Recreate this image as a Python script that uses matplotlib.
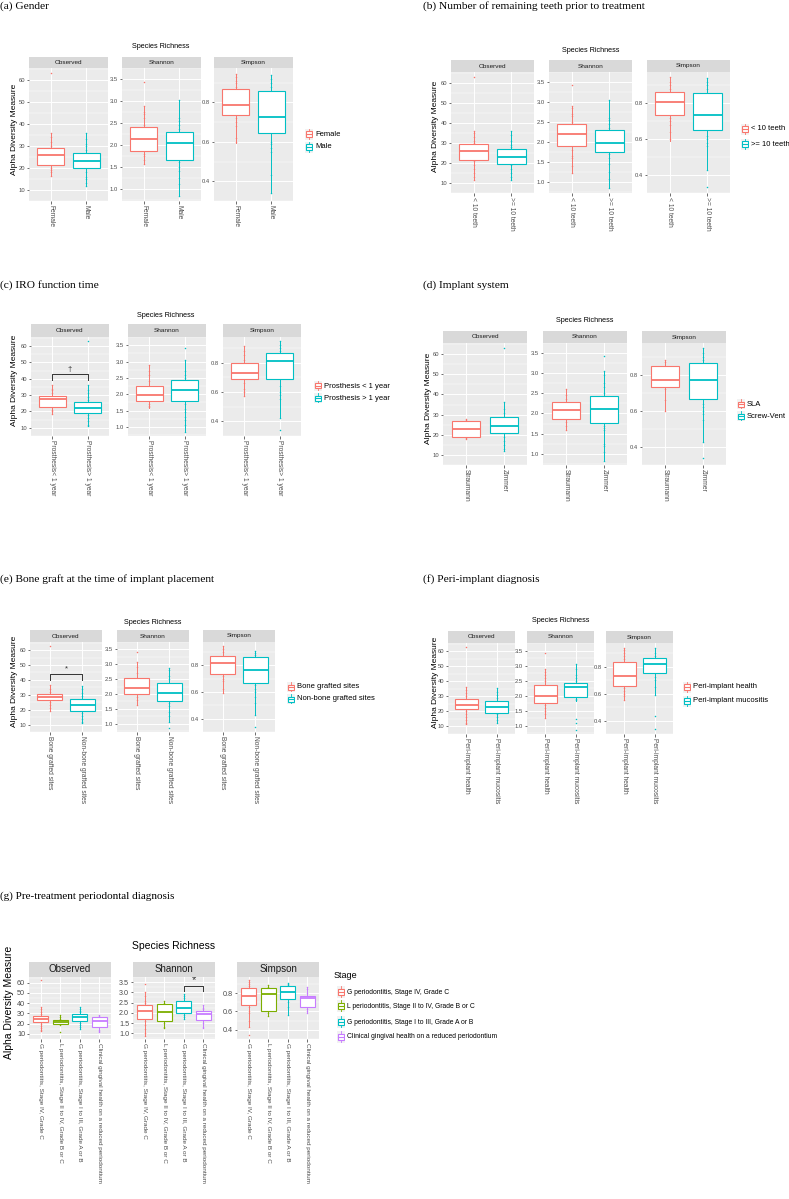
import numpy as np
import matplotlib
matplotlib.use("Agg")
import matplotlib.pyplot as plt
from matplotlib.patches import Rectangle

W, H = 789, 1199
RED, CYAN, GREEN, PURPLE = "#F8766D", "#00BFC4", "#7CAE00", "#C77CFF"
facets = ["Observed", "Shannon", "Simpson"]
ylims = [(9.4, 65.5), (0.72, 3.56), (0.31, 0.975)]
yticks = [[10, 20, 30, 40, 50, 60], [1.0, 1.5, 2.0, 2.5, 3.0, 3.5], [0.4, 0.6, 0.8]]
ytick_fmt = ["{:.0f}", "{:.1f}", "{:.1f}"]

# box stats are [whisker low, q1, median, q3, whisker high]
# (a) gender
a_groups = ["Female", "Male"]
a_legend = ["Female", "Male"]
a_obs = [[16.4, 21.2, 26.1, 29.3, 36.0], [11.8, 20.0, 23.0, 26.8, 36.0]]
a_sha = [[1.57, 1.87, 2.14, 2.41, 2.88], [0.84, 1.66, 2.03, 2.29, 3.02]]
a_sim = [[0.592, 0.735, 0.788, 0.868, 0.945], [0.34, 0.645, 0.728, 0.86, 0.94]]
a_obs_pts = [[63, 36, 34, 32, 30, 20, 19, 18, 16.4], [36, 33, 31, 30, 28, 18, 16, 15, 13, 11.8]]
a_sha_pts = [[3.42, 2.88, 2.75, 2.7, 2.6, 2.45, 1.8, 1.75, 1.65, 1.57],
             [3.02, 2.6, 2.55, 2.45, 2.35, 1.6, 1.5, 1.4, 1.25, 1.1, 0.84]]
a_sim_pts = [[0.945, 0.93, 0.91, 0.9, 0.88, 0.72, 0.7, 0.68, 0.62, 0.6],
             [0.94, 0.92, 0.9, 0.88, 0.6, 0.59, 0.57, 0.55, 0.43, 0.34]]

# (b) remaining teeth
b_groups = ["< 10 teeth", ">= 10 teeth"]
b_legend = ["< 10 teeth", ">= 10 teeth"]
b_obs = [[11.7, 21.5, 26.2, 29.6, 35.8], [11.7, 19.6, 23.0, 27.0, 36.0]]
b_sha = [[1.21, 1.89, 2.2, 2.45, 2.9], [0.85, 1.74, 1.97, 2.3, 3.04]]
b_sim = [[0.59, 0.735, 0.805, 0.865, 0.945], [0.43, 0.653, 0.736, 0.86, 0.942]]
b_obs_pts = [[63, 36, 35, 33, 31, 30, 21, 19, 17, 15, 13, 11.7], [36, 34, 31, 29, 28, 19, 17, 15, 13, 11.7]]
b_sha_pts = [[3.42, 2.9, 2.85, 2.7, 2.65, 2.5, 1.8, 1.65, 1.6, 1.4, 1.21],
             [3.04, 2.6, 2.55, 2.45, 2.35, 1.7, 1.6, 1.45, 1.25, 1.07, 0.85]]
b_sim_pts = [[0.945, 0.92, 0.9, 0.88, 0.72, 0.7, 0.68, 0.64, 0.6],
             [0.942, 0.92, 0.9, 0.88, 0.62, 0.6, 0.58, 0.56, 0.43, 0.336]]

# (c) IRO function time
c_groups = ["Prosthesis< 1 year", "Prosthesis> 1 year"]
c_legend = ["Prosthesis < 1 year", "Prosthesis > 1 year"]
c_obs = [[18.2, 22.7, 27.4, 29.2, 36.3], [11.1, 18.8, 22.2, 26.0, 36.3]]
c_sha = [[1.57, 1.8, 1.96, 2.26, 2.89], [0.83, 1.78, 2.14, 2.42, 3.04]]
c_sim = [[0.576, 0.69, 0.73, 0.80, 0.914], [0.42, 0.686, 0.81, 0.868, 0.945]]
c_obs_pts = [[36, 34, 33, 31, 21, 20, 18.2], [63, 36, 33, 31, 29, 27, 18, 16, 14, 12, 11.1]]
c_sha_pts = [[2.89, 2.7, 2.6, 2.4, 1.7, 1.65, 1.6], [3.42, 3.04, 2.7, 2.6, 2.5, 1.7, 1.55, 1.45, 1.3, 1.2, 1.05, 0.83]]
c_sim_pts = [[0.914, 0.88, 0.85, 0.82, 0.66, 0.62, 0.6, 0.576],
             [0.945, 0.92, 0.9, 0.88, 0.64, 0.6, 0.58, 0.55, 0.42, 0.34]]

# (d) implant system
d_groups = ["Straumann", "Zimmer"]
d_legend = ["SLA", "Screw-Vent"]
d_obs = [[18.0, 19.1, 23.1, 27.0, 28.0], [11.7, 20.8, 24.4, 29.0, 36.0]]
d_sha = [[1.58, 1.87, 2.08, 2.28, 2.6], [0.83, 1.76, 2.1, 2.43, 3.05]]
d_sim = [[0.6, 0.734, 0.773, 0.85, 0.882], [0.427, 0.666, 0.77, 0.864, 0.945]]
d_obs_pts = [[28, 27.5, 18.5, 18], [63, 36, 33, 31, 19, 17, 15, 13, 11.7]]
d_sha_pts = [[2.6, 2.45, 2.35, 1.8, 1.7, 1.58],
             [3.42, 3.05, 2.95, 2.75, 2.65, 2.5, 1.7, 1.65, 1.6, 1.25, 1.2, 1.05, 0.83]]
d_sim_pts = [[0.882, 0.87, 0.72, 0.66, 0.6],
             [0.945, 0.92, 0.9, 0.88, 0.64, 0.62, 0.6, 0.58, 0.55, 0.427, 0.34]]

# (e) bone graft
e_groups = ["Bone grafted sites", "Non-bone grafted sites"]
e_legend = ["Bone grafted sites", "Non-bone grafted sites"]
e_obs = [[19.2, 26.3, 28.2, 30.7, 36.6], [11.3, 19.0, 23.2, 27.2, 36.2]]
e_sha = [[1.64, 1.99, 2.21, 2.53, 3.07], [1.07, 1.77, 2.04, 2.36, 2.89]]
e_sim = [[0.593, 0.738, 0.82, 0.87, 0.943], [0.425, 0.67, 0.763, 0.862, 0.91]]
e_obs_pts = [[63, 36.6, 34, 32, 25, 23, 21, 19.2], [36.2, 34, 31, 29, 18, 16, 14, 12, 11.3]]
e_sha_pts = [[3.42, 3.07, 2.9, 2.7, 1.9, 1.8, 1.64], [2.89, 2.8, 2.6, 2.5, 1.7, 1.6, 1.4, 1.25, 1.07, 0.84]]
e_sim_pts = [[0.943, 0.92, 0.9, 0.72, 0.7, 0.68, 0.62, 0.593],
             [0.91, 0.89, 0.88, 0.65, 0.62, 0.6, 0.56, 0.52, 0.425, 0.34]]

# (f) peri-implant diagnosis
f_groups = ["Peri-implant health", "Peri-implant mucositis"]
f_legend = ["Peri-implant health", "Peri-implant mucositis"]
f_obs = [[11.6, 21.6, 24.3, 28.2, 36.1], [12.0, 19.2, 23.1, 27.1, 35.5]]
f_sha = [[1.26, 1.75, 1.97, 2.35, 2.9], [1.83, 1.96, 2.27, 2.42, 3.04]]
f_sim = [[0.553, 0.654, 0.733, 0.834, 0.941], [0.59, 0.75, 0.82, 0.862, 0.941]]
f_obs_pts = [[63, 36.1, 34, 32, 30, 20, 18, 16, 14, 12, 11.6], [35.5, 33, 31, 29, 18, 16, 14, 12]]
f_sha_pts = [[3.42, 2.9, 2.8, 2.7, 2.6, 2.5, 1.7, 1.6, 1.5, 1.4, 1.26],
             [3.04, 2.9, 2.7, 2.6, 2.5, 1.9, 1.85, 1.22, 1.08, 0.85]]
f_sim_pts = [[0.941, 0.92, 0.9, 0.88, 0.86, 0.64, 0.62, 0.6, 0.58, 0.553],
             [0.941, 0.9, 0.88, 0.72, 0.7, 0.65, 0.59, 0.43, 0.34]]

# (g) pre-treatment periodontal diagnosis
g_groups = ["G periodontitis, Stage IV, Grade C", "L periodontitis, Stage II to IV, Grade B or C",
            "G periodontitis, Stage I to III, Grade A or B", "Clinical gingival health on a reduced periodontium"]
g_legend = g_groups
g_obs = [[12.4, 21.3, 24.6, 27.5, 36.3], [19.0, 19.5, 21.8, 23.6, 28.0],
         [15.0, 23.0, 26.3, 29.8, 36.3], [11.8, 16.8, 22.5, 26.9, 28.3]]
g_sha = [[0.85, 1.72, 2.07, 2.4, 3.03], [1.24, 1.62, 2.04, 2.43, 2.6],
         [1.7, 1.98, 2.22, 2.58, 2.91], [1.24, 1.67, 1.93, 2.1, 2.36]]
g_sim = [[0.428, 0.674, 0.772, 0.86, 0.944], [0.551, 0.6, 0.793, 0.853, 0.884],
         [0.565, 0.733, 0.81, 0.874, 0.912], [0.586, 0.653, 0.747, 0.768, 0.867]]
g_obs_pts = [[63, 36.3, 34, 31, 29, 20, 18, 16, 14, 12.4], [28, 26, 25, 19, 12],
             [36.3, 34, 32, 31, 21, 19, 17, 15], [28.3, 27.5, 14, 12.5, 11.8]]
g_sha_pts = [[3.42, 3.03, 2.8, 2.6, 2.5, 1.6, 1.4, 1.2, 1.0, 0.85], [2.6, 2.5, 1.5, 1.3, 1.24],
             [2.91, 2.8, 2.7, 1.9, 1.8, 1.7], [2.36, 2.25, 2.2, 1.5, 1.3, 1.24]]
g_sim_pts = [[0.944, 0.92, 0.9, 0.88, 0.65, 0.6, 0.58, 0.5, 0.428, 0.34], [0.884, 0.87, 0.58, 0.551],
             [0.912, 0.9, 0.89, 0.7, 0.65, 0.565], [0.867, 0.84, 0.8, 0.63, 0.6, 0.586]]


def fx(x):
    return x / W


def fy(y):
    return 1 - y / H


small_fs = dict(tick=4.2, xtick=4.8, strip=4.6, sr=5.2, ylab=6.0, leg=5.5, title=8.2)
big_fs = dict(tick=5.2, xtick=4.6, strip=7.0, sr=7.5, ylab=7.5, leg=4.9, title=8.0, legtitle=6.5)


def draw_key(cx, cy, kw, kh, color):
    kax = plt.gcf().add_axes([fx(cx - kw / 2), fy(cy + kh / 2), kw / W, kh / H])
    kax.set_xlim(0, 1); kax.set_ylim(0, 1); kax.axis("off")
    kax.add_patch(Rectangle((0, 0), 1, 1, facecolor="#F2F2F2", edgecolor="none"))
    kax.add_patch(Rectangle((0.08, 0.25), 0.84, 0.5, facecolor="white", edgecolor=color, lw=0.8))
    kax.plot([0.08, 0.92], [0.5, 0.5], color=color, lw=0.8)
    kax.plot([0.5, 0.5], [0.0, 0.25], color=color, lw=0.6)
    kax.plot([0.5, 0.5], [0.75, 1.0], color=color, lw=0.6)


def draw_panel(fig, title, title_xy, groups, legend_labels, colors, stats, points, geo, fs,
               bracket=None, legend_title=None):
    fig.text(fx(title_xy[0]), fy(title_xy[1]), title, family="Liberation Serif",
             fontsize=fs["title"], ha="left", va="center")
    n = len(groups)
    xs = np.arange(1, n + 1)
    for k in range(3):
        left = geo["lefts"][k]
        ax = fig.add_axes([fx(left), fy(geo["plot_bot"]), geo["width"] / W,
                           (geo["plot_bot"] - geo["strip_bot"]) / H])
        ax.set_facecolor("#EBEBEB")
        for s in ax.spines.values():
            s.set_visible(False)
        ax.set_xlim(0.4, n + 0.6)
        ax.set_ylim(*ylims[k])
        ax.set_yticks(yticks[k])
        ax.set_yticklabels([ytick_fmt[k].format(v) for v in yticks[k]])
        # minor grid halfway between major ticks, as ggplot does
        minor = [(a + b) / 2 for a, b in zip(yticks[k][:-1], yticks[k][1:])]
        step = yticks[k][1] - yticks[k][0]
        minor = [yticks[k][0] - step / 2] + minor + [yticks[k][-1] + step / 2]
        ax.set_yticks(minor, minor=True)
        ax.tick_params(axis="y", which="minor", length=0)
        ax.set_xticks(xs)
        ax.set_xticklabels(groups, rotation=-90, ha="center", va="top")
        ax.tick_params(axis="both", which="major", length=1.8, width=0.5, color="#333333",
                       labelcolor="#4D4D4D", pad=1.0)
        ax.tick_params(axis="y", labelsize=fs["tick"])
        ax.tick_params(axis="x", labelsize=fs["xtick"])
        ax.grid(True, which="major", color="white", lw=0.7)
        ax.grid(True, which="minor", axis="y", color="white", lw=0.35)
        ax.set_axisbelow(True)
        for i in range(n):
            col = colors[i]
            ax.scatter(np.full(len(points[k][i]), xs[i]), points[k][i], s=1.2, color=col,
                       linewidths=0, zorder=2)
            lo, q1, med, q3, hi = stats[k][i]
            bs = [dict(whislo=lo, q1=q1, med=med, q3=q3, whishi=hi, fliers=[])]
            ax.bxp(bs, positions=[xs[i]], widths=0.75, patch_artist=True, showcaps=False,
                   showfliers=False, manage_ticks=False,
                   boxprops=dict(facecolor="white", edgecolor=col, lw=0.8),
                   medianprops=dict(color=col, lw=1.3),
                   whiskerprops=dict(color=col, lw=0.7), zorder=1.5)
        if bracket is not None and bracket[0] == k:
            _, i1, i2, yb, drop, sym = bracket
            ax.plot([i1, i1, i2, i2], [yb - drop, yb, yb, yb - drop], color="#333333", lw=0.7, zorder=4)
            ax.text((i1 + i2) / 2, yb + drop * 0.3, sym, ha="center", va="bottom",
                    fontsize=fs["sr"] + 0.5, color="#333333")
        # strip
        sax = fig.add_axes([fx(left), fy(geo["strip_bot"]), geo["width"] / W,
                            (geo["strip_bot"] - geo["strip_top"]) / H])
        sax.set_facecolor("#D9D9D9")
        sax.set_xticks([]); sax.set_yticks([])
        for s in sax.spines.values():
            s.set_visible(False)
        sax.text(0.5, 0.5, facets[k], transform=sax.transAxes, ha="center", va="center",
                 fontsize=fs["strip"], color="#1A1A1A")
    x_mid = (geo["lefts"][0] + geo["lefts"][2] + geo["width"]) / 2
    fig.text(fx(x_mid), fy(geo["sr_y"]), "Species Richness", ha="center", va="center",
             fontsize=fs["sr"])
    fig.text(fx(geo["ylab_x"]), fy(geo.get("ylab_y", (geo["strip_top"] + geo["plot_bot"]) / 2)),
             "Alpha Diversity Measure", rotation=90, ha="center", va="center", fontsize=fs["ylab"])
    if legend_title is not None:
        fig.text(fx(geo["legt"][0]), fy(geo["legt"][1]), legend_title, ha="left", va="center",
                 fontsize=fs["legtitle"])
    for i, lab in enumerate(legend_labels):
        draw_key(geo["leg_x"], geo["leg_ys"][i], geo["key"][0], geo["key"][1], colors[i])
        fig.text(fx(geo["leg_x"] + geo["key"][0] / 2 + 2), fy(geo["leg_ys"][i]), lab,
                 ha="left", va="center", fontsize=fs["leg"])


plt.rcParams["font.family"] = ["Liberation Sans", "DejaVu Sans"]
fig = plt.figure(figsize=(W / 100, H / 100), dpi=100)

two = [RED, CYAN]
four = [RED, GREEN, CYAN, PURPLE]

geo_a = dict(lefts=[29, 122, 214], width=79, strip_top=57, strip_bot=68, plot_bot=201, sr_y=47,
             ylab_x=15, leg_x=309, leg_ys=[134, 147], key=(8, 11))
draw_panel(fig, "(a) Gender", (0, 6), a_groups, a_legend, two, [a_obs, a_sha, a_sim],
           [a_obs_pts, a_sha_pts, a_sim_pts], geo_a, small_fs)

geo_b = dict(lefts=[451, 549, 647], width=83, strip_top=60, strip_bot=72, plot_bot=193, sr_y=50,
             ylab_x=435, leg_x=745, leg_ys=[129, 144], key=(8, 11))
draw_panel(fig, "(b) Number of remaining teeth prior to treatment", (423, 6), b_groups, b_legend, two,
           [b_obs, b_sha, b_sim], [b_obs_pts, b_sha_pts, b_sim_pts], geo_b, small_fs)

geo_c = dict(lefts=[31, 128, 223], width=78, strip_top=324, strip_bot=337, plot_bot=436, sr_y=315,
             ylab_x=15, leg_x=318, leg_ys=[386, 398], key=(8, 10))
draw_panel(fig, "(c) IRO function time", (0, 285), c_groups, c_legend, two, [c_obs, c_sha, c_sim],
           [c_obs_pts, c_sha_pts, c_sim_pts], geo_c, small_fs, bracket=(0, 1, 2, 42.6, 3.6, "†"))

geo_d = dict(lefts=[443, 543, 642], width=84, strip_top=331, strip_bot=343, plot_bot=465, sr_y=321,
             ylab_x=428, leg_x=741, leg_ys=[404, 416], key=(8, 10))
draw_panel(fig, "(d) Implant system", (423, 285), d_groups, d_legend, two, [d_obs, d_sha, d_sim],
           [d_obs_pts, d_sha_pts, d_sim_pts], geo_d, small_fs)

geo_e = dict(lefts=[30, 117, 203], width=72, strip_top=630, strip_bot=642, plot_bot=732, sr_y=622,
             ylab_x=15, leg_x=291, leg_ys=[687, 699], key=(8, 10))
draw_panel(fig, "(e) Bone graft at the time of implant placement", (0, 579), e_groups, e_legend, two,
           [e_obs, e_sha, e_sim], [e_obs_pts, e_sha_pts, e_sim_pts], geo_e, small_fs,
           bracket=(0, 1, 2, 44.1, 4.0, "*"))

geo_f = dict(lefts=[448, 527, 606], width=67, strip_top=631, strip_bot=643, plot_bot=734, sr_y=621,
             ylab_x=435, leg_x=687, leg_ys=[687, 701], key=(8, 11))
draw_panel(fig, "(f) Peri-implant diagnosis", (423, 579), f_groups, f_legend, two,
           [f_obs, f_sha, f_sim], [f_obs_pts, f_sha_pts, f_sim_pts], geo_f, small_fs)

geo_g = dict(lefts=[29, 133, 237], width=82, strip_top=962, strip_bot=977, plot_bot=1039, sr_y=946,
             ylab_x=9, ylab_y=1002, leg_x=341, leg_ys=[992, 1006, 1022, 1037], key=(8, 12),
             legt=(334, 976))
draw_panel(fig, "(g) Pre-treatment periodontal diagnosis", (0, 896), g_groups, g_legend, four,
           [g_obs, g_sha, g_sim], [g_obs_pts, g_sha_pts, g_sim_pts], geo_g, big_fs,
           bracket=(1, 3, 4, 3.29, 0.2, "*"), legend_title="Stage")

fig.savefig("out.png", dpi=100)
